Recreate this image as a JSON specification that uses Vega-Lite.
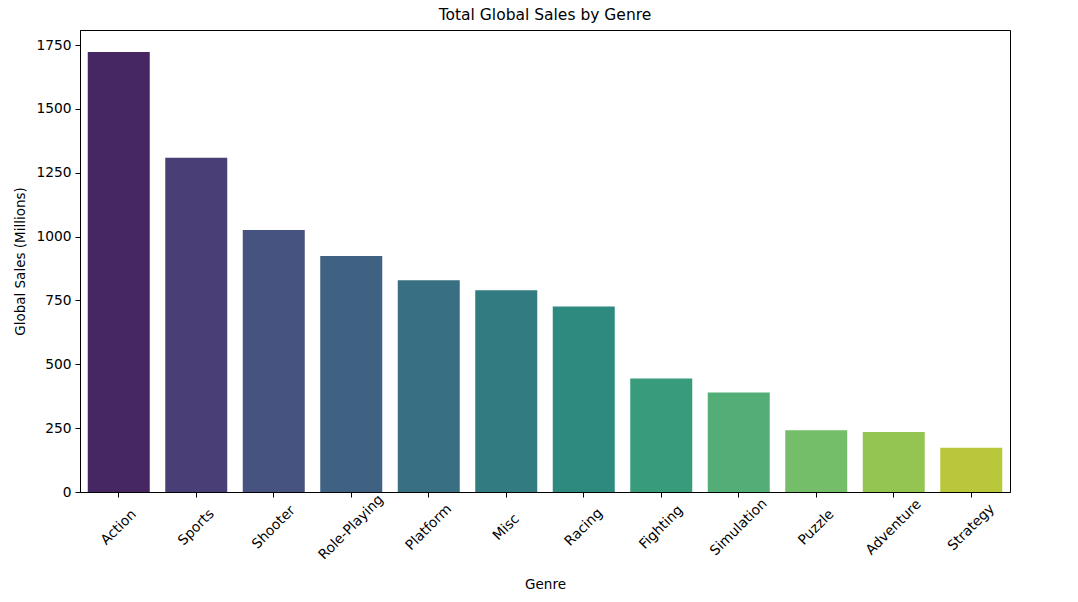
{
  "$schema": "https://vega.github.io/schema/vega-lite/v6.json",
  "width": 930,
  "height": 462,
  "autosize": "none",
  "padding": {"left": 80, "top": 30, "right": 68, "bottom": 110},
  "background": "white",
  "config": {
    "font": "DejaVu Sans",
    "view": {"stroke": "black", "strokeWidth": 1},
    "axis": {"grid": false, "domainColor": "black", "tickColor": "black", "labelColor": "black", "titleColor": "black", "labelFontSize": 13.8, "titleFontSize": 13.5, "titleFontWeight": "normal", "tickSize": 5}
  },
  "title": {"text": "Total Global Sales by Genre", "fontSize": 15.5, "fontWeight": "normal", "color": "black", "anchor": "middle", "offset": 7},
  "data": {
    "values": [
      {"Genre": "Action", "Sales": 1722.84},
      {"Genre": "Sports", "Sales": 1309.24},
      {"Genre": "Shooter", "Sales": 1026.2},
      {"Genre": "Role-Playing", "Sales": 923.83},
      {"Genre": "Platform", "Sales": 829.13},
      {"Genre": "Misc", "Sales": 789.87},
      {"Genre": "Racing", "Sales": 726.76},
      {"Genre": "Fighting", "Sales": 444.05},
      {"Genre": "Simulation", "Sales": 389.98},
      {"Genre": "Puzzle", "Sales": 242.21},
      {"Genre": "Adventure", "Sales": 234.8},
      {"Genre": "Strategy", "Sales": 173.27}
    ]
  },
  "mark": {"type": "bar"},
  "encoding": {
    "x": {
      "field": "Genre", "type": "nominal", "sort": null,
      "scale": {"paddingInner": 0.2, "paddingOuter": 0.1},
      "axis": {"title": "Genre", "labelAngle": -45, "labelAlign": "center", "labelBaseline": "middle", "labelPadding": 30, "titleY": 92, "titleBaseline": "middle"}
    },
    "y": {
      "field": "Sales", "type": "quantitative",
      "scale": {"domain": [0, 1809], "nice": false},
      "axis": {"title": "Global Sales (Millions)", "format": "d", "values": [0, 250, 500, 750, 1000, 1250, 1500, 1750], "labelPadding": 4, "titleX": -60, "titleY": 231, "titleAngle": -90, "titleAlign": "center", "titleBaseline": "middle"}
    },
    "color": {
      "field": "Genre", "type": "nominal", "sort": null, "legend": null,
      "scale": {
        "domain": ["Action", "Sports", "Shooter", "Role-Playing", "Platform", "Misc", "Racing", "Fighting", "Simulation", "Puzzle", "Adventure", "Strategy"],
        "range": ["#472664", "#4a3e76", "#46527f", "#3f6182", "#386f82", "#327b81", "#2e8a7f", "#389b7c", "#52ae76", "#74be69", "#95c551", "#b9c83b"]
      }
    }
  }
}
